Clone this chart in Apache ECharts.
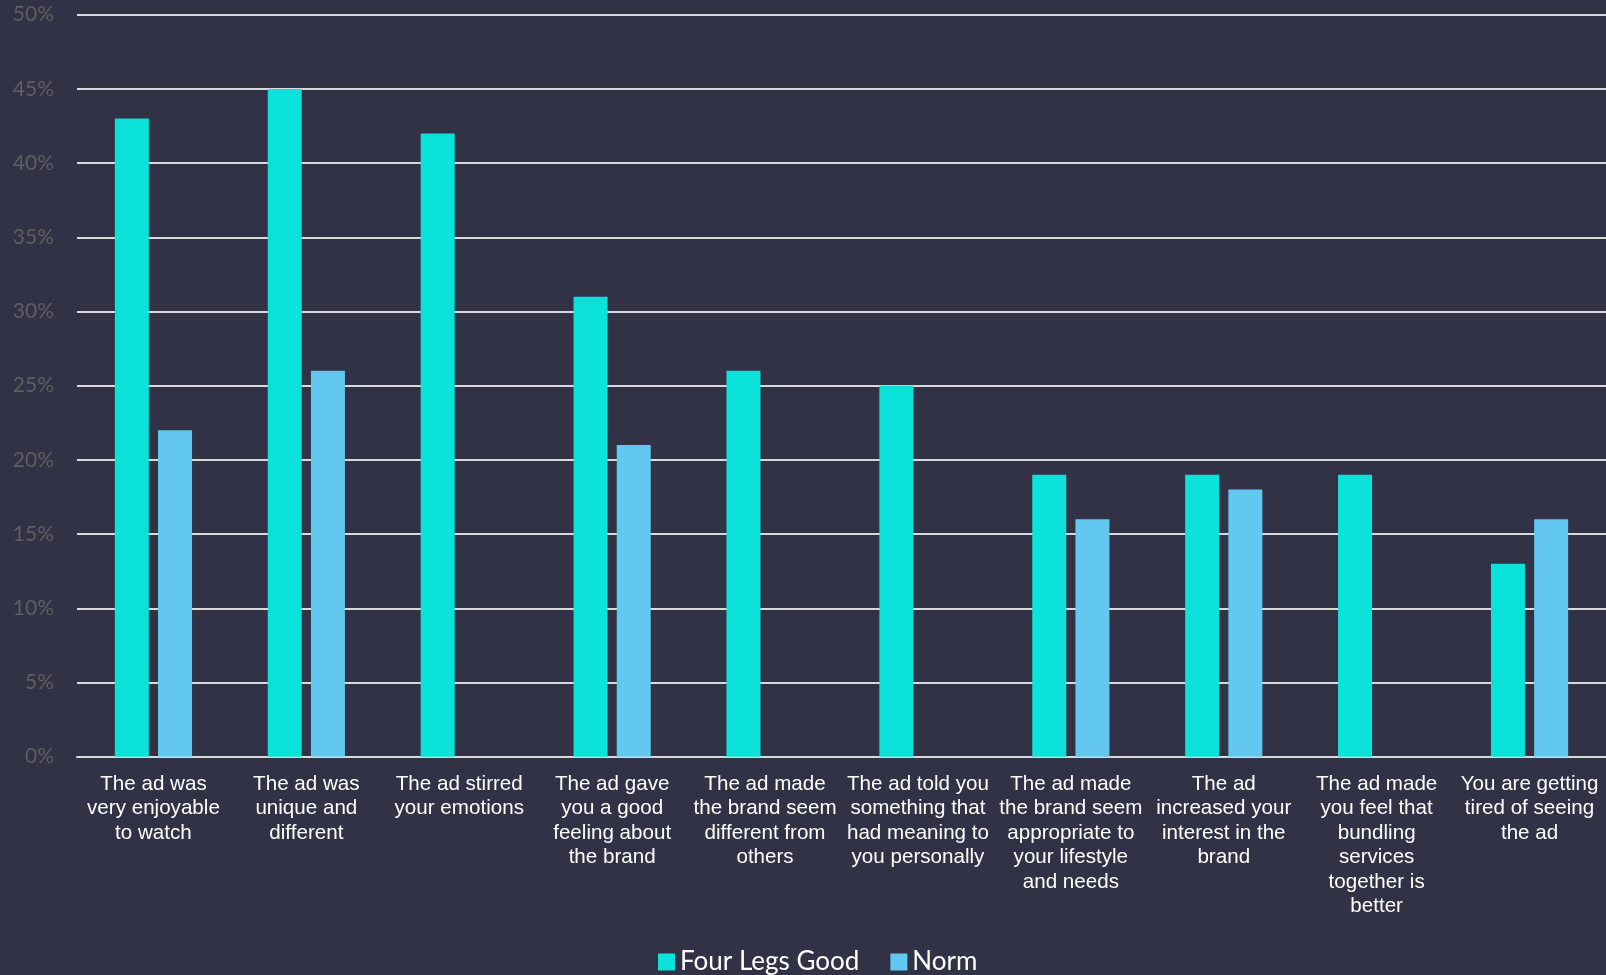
<!DOCTYPE html>
<html>
<head>
<meta charset="utf-8">
<script src="https://cdn.jsdelivr.net/npm/echarts@6/dist/echarts.min.js"></script>
<style>
  html, body { margin: 0; padding: 0; background: #313246; }
  #chart { width: 1606px; height: 975px; }
</style>
</head>
<body>
<div id="chart"></div>
<script>
// Statement labels (line breaks as laid out under each column)
const categories = [
  'The ad was\nvery enjoyable\nto watch',
  'The ad was\nunique and\ndifferent',
  'The ad stirred\nyour emotions',
  'The ad gave\nyou a good\nfeeling about\nthe brand',
  'The ad made\nthe brand seem\ndifferent from\nothers',
  'The ad told you\nsomething that\nhad meaning to\nyou personally',
  'The ad made\nthe brand seem\nappropriate to\nyour lifestyle\nand needs',
  'The ad\nincreased your\ninterest in the\nbrand',
  'The ad made\nyou feel that\nbundling\nservices\ntogether is\nbetter',
  'You are getting\ntired of seeing\nthe ad'
];
// Percent agreeing
const fourLegsGood = [43, 45, 42, 31, 26, 25, 19, 19, 19, 13];
const norm = [22, 26, null, 21, null, null, 16, 18, null, 16];
const seriesNames = ['Four Legs Good', 'Norm'];

const chart = echarts.init(document.getElementById('chart'));
chart.setOption({
  backgroundColor: '#313246',
  animation: false,
  grid: { left: 77, right: 0, top: 14.7, bottom: 218.3 },
  legend: {
    data: seriesNames,
    left: 653,
    top: 944,
    itemWidth: 17,
    itemHeight: 17,
    itemGap: 31,
    icon: 'rect',
    textStyle: { color: '#ffffff', fontSize: 26, fontFamily: 'Lato' }
  },
  xAxis: {
    type: 'category',
    data: categories,
    axisLine: { show: true, lineStyle: { color: '#d9d9d9', width: 2 } },
    axisTick: { show: false },
    axisLabel: {
      color: '#ffffff',
      fontFamily: 'Liberation Sans',
      fontSize: 20.6,
      lineHeight: 24.5,
      margin: 15,
      interval: 0,
      align: 'center'
    }
  },
  yAxis: {
    type: 'value',
    min: 0,
    max: 50,
    interval: 5,
    axisLine: { show: false },
    axisTick: { show: false },
    splitLine: { lineStyle: { color: '#d9d9d9', width: 2 } },
    axisLabel: {
      formatter: '{value}%',
      color: '#5f5f5f',
      fontFamily: 'Lato',
      fontSize: 21,
      margin: 23
    }
  },
  series: [
    {
      name: seriesNames[0],
      type: 'bar',
      data: fourLegsGood,
      barWidth: 34,
      barGap: '27%',
      itemStyle: { color: '#0ae2da' }
    },
    {
      name: seriesNames[1],
      type: 'bar',
      data: norm,
      barWidth: 34,
      barGap: '27%',
      itemStyle: { color: '#63c8f0' }
    }
  ]
});
</script>
</body>
</html>
